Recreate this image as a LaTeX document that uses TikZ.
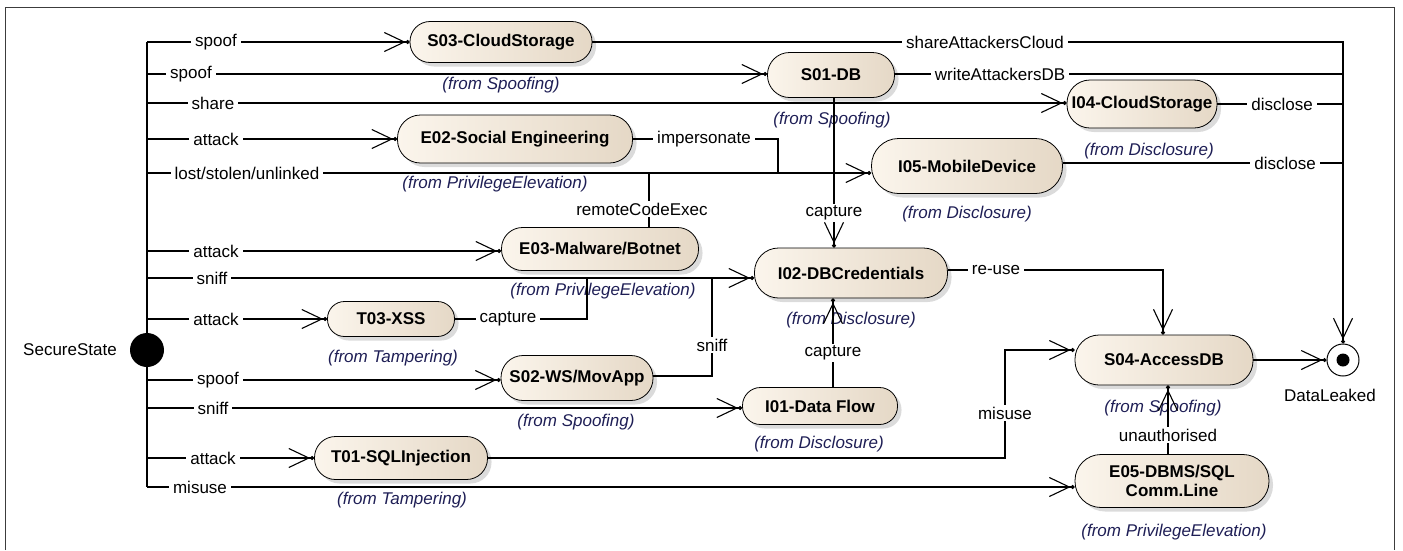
\documentclass[tikz,border=0pt]{standalone}
\usepackage{fontspec}
\setmainfont{Liberation Sans}
\usetikzlibrary{arrows.meta,shadows}
\definecolor{bgL}{RGB}{251,245,236}
\definecolor{bgR}{RGB}{229,216,198}
\definecolor{fromc}{RGB}{30,30,85}
\definecolor{framec}{RGB}{60,60,60}
\begin{document}
\begin{tikzpicture}[x=1pt,y=-1pt,
  st/.style={draw=black, line width=0.8pt, rectangle, inner sep=0pt,
    left color=bgL, right color=bgR,
    drop shadow={shadow xshift=4pt, shadow yshift=-4pt, fill=black!28},
    font=\bfseries\fontsize{17}{19}\selectfont, align=center},
  lbl/.style={fill=white, inner xsep=4pt, inner ysep=2pt, font=\fontsize{17}{19}\selectfont},
  frm/.style={inner sep=0pt, font=\itshape\fontsize{17}{19}\selectfont, text=fromc},
  plain/.style={inner sep=0pt, font=\fontsize{17}{19}\selectfont},
  con/.style={line width=1.1pt},
  arr/.style={con, -{Straight Barb[length=20pt,width=19pt] Circle[length=4pt]}},
]
\useasboundingbox (0,0) rectangle (1403,550);
\draw[framec, line width=1pt] (5,550) -- (5,7) -- (1394,7) -- (1394,550);

% states
\node[st, minimum width=182pt, minimum height=41pt, rounded corners=20pt] (S03) at (501,42) {S03-CloudStorage};
\node[st, minimum width=127pt, minimum height=45pt, rounded corners=22pt] (S01) at (831,75) {S01-DB};
\node[st, minimum width=150pt, minimum height=48pt, rounded corners=23pt] (I04) at (1142,104) {I04-CloudStorage};
\node[st, minimum width=235pt, minimum height=48pt, rounded corners=23pt] (E02) at (515,139) {E02-Social Engineering};
\node[st, minimum width=191pt, minimum height=55pt, rounded corners=27pt] (I05) at (967,166) {I05-MobileDevice};
\node[st, minimum width=197pt, minimum height=43pt, rounded corners=21pt] (E03) at (600,249) {E03-Malware/Botnet};
\node[st, minimum width=193pt, minimum height=50pt, rounded corners=24pt] (I02) at (851,273) {I02-DBCredentials};
\node[st, minimum width=127pt, minimum height=35pt, rounded corners=17pt] (T03) at (391,319) {T03-XSS};
\node[st, minimum width=152pt, minimum height=45pt, rounded corners=22pt] (S02) at (577,378) {S02-WS/MovApp};
\node[st, minimum width=155pt, minimum height=37pt, rounded corners=18pt] (I01) at (820,406) {I01-Data Flow};
\node[st, minimum width=178pt, minimum height=50pt, rounded corners=24pt] (S04) at (1164,360) {S04-AccessDB};
\node[st, minimum width=173pt, minimum height=43pt, rounded corners=21pt] (T01) at (401,458) {T01-SQLInjection};
\node[st, minimum width=194pt, minimum height=53pt, rounded corners=26pt] (E05) at (1172,481) {E05-DBMS/SQL\\Comm.Line};

% pseudo states
\node[circle, fill=black, minimum size=34pt, inner sep=0pt] (SS) at (147,350) {};
\node[plain] (SSl) at (70,350) {SecureState};
\node[circle, draw=black, fill=white, line width=1pt, minimum size=32pt, inner sep=0pt] (DL) at (1343,360) {};
\node[circle, fill=black, minimum size=13pt, inner sep=0pt] (DLd) at (DL.center) {};
\node[plain] (DLl) at (1330,395) {DataLeaked};

% from labels
\node[frm] (fS03) at (501,85) {(from Spoofing)};
\node[frm] (fS01) at (832,120) {(from Spoofing)};
\node[frm] (fI04) at (1149,151) {(from Disclosure)};
\node[frm] (fE02) at (495,184) {(from PrivilegeElevation)};
\node[frm] (fI05) at (967,214) {(from Disclosure)};
\node[frm] (fE03) at (603,291) {(from PrivilegeElevation)};
\node[frm] (fI02) at (851,320) {(from Disclosure)};
\node[frm] (fT03) at (393,358) {(from Tampering)};
\node[frm] (fS02) at (576,422) {(from Spoofing)};
\node[frm] (fI01) at (819,444) {(from Disclosure)};
\node[frm] (fS04) at (1163,408) {(from Spoofing)};
\node[frm] (fT01) at (402,500) {(from Tampering)};
\node[frm] (fE05) at (1174,532) {(from PrivilegeElevation)};

% trunk coordinates
\coordinate (tr1) at (147,42);
\coordinate (tr2) at (147,74);
\coordinate (tr3) at (147,103);
\coordinate (tr4) at (147,139);
\coordinate (tr5) at (147,173);
\coordinate (tr6) at (147,251);
\coordinate (tr7) at (147,278);
\coordinate (tr8) at (147,319);
\coordinate (tr9) at (147,380);
\coordinate (tr10) at (147,408);
\coordinate (tr11) at (147,458);
\coordinate (tr12) at (147,487);
% other bends
\coordinate (c1) at (1343,42);
\coordinate (c2) at (1343,74);
\coordinate (c3) at (1343,104);
\coordinate (c4) at (1343,163);
\coordinate (j1) at (778,139);
\coordinate (j2) at (778,173);
\coordinate (j3) at (649,173);
\coordinate (k1) at (834,150);
\coordinate (k2) at (833,350);
\coordinate (m1) at (587,319);
\coordinate (m2) at (587,278);
\coordinate (n1) at (712,376);
\coordinate (n2) at (712,278);
\coordinate (r1) at (1163,270);
\coordinate (p1) at (1005,458);
\coordinate (p2) at (1005,350);
\coordinate (q1) at (1168,430);

% trunk
\draw[con] (tr1) -- (SS.center) -- (tr12);
\draw[arr] (tr1) -- (tr1 -| S03.west);
\draw[arr] (tr2) -- (tr2 -| S01.west);
\draw[arr] (tr3) -- (tr3 -| I04.west);
\draw[arr] (tr4) -- (tr4 -| E02.west);
\draw[arr] (tr5) -- (tr5 -| I05.west);
\draw[arr] (tr6) -- (tr6 -| E03.west);
\draw[arr] (tr7) -- (tr7 -| I02.west);
\draw[arr] (tr8) -- (tr8 -| T03.west);
\draw[arr] (tr9) -- (tr9 -| S02.west);
\draw[arr] (tr10) -- (tr10 -| I01.west);
\draw[arr] (tr11) -- (tr11 -| T01.west);
\draw[arr] (tr12) -- (tr12 -| E05.west);

% to DataLeaked
\draw[arr] (S03.east) -- (c1) -- (DL.north);
\draw[con] (c2 -| S01.east) -- (c2);
\draw[con] (c3 -| I04.east) -- (c3);
\draw[con] (c4 -| I05.east) -- (c4);
\draw[arr] (S04.east) -- (DL.west);

% internal transitions
\draw[con] (E02.east) -- (j1) -- (j2);
\draw[con] (j3 |- E03.north) -- (j3);
\draw[arr] (k1 |- S01.south) -- (k1 |- I02.north);
\draw[arr] (k2 |- I01.north) -- (k2 |- I02.south);
\draw[con] (T03.east) -- (m1) -- (m2);
\draw[con] (n1 -| S02.east) -- (n1) -- (n2);
\draw[arr] (r1 -| I02.east) -- (r1) -- (r1 |- S04.north);
\draw[arr] (T01.east) -- (p1) -- (p2) -- (p2 -| S04.west);
\draw[arr] (q1 |- E05.north) -- (q1 |- S04.south);

% transition labels
\node[lbl] (l1) at (216,42) {spoof};
\node[lbl] (l2) at (191,74) {spoof};
\node[lbl] (l3) at (213,103) {share};
\node[lbl] (l4) at (216,139) {attack};
\node[lbl] (l5) at (247,173) {lost/stolen/unlinked};
\node[lbl] (l6) at (216,251) {attack};
\node[lbl] (l7) at (212,278) {sniff};
\node[lbl] (l8) at (216,319) {attack};
\node[lbl] (l9) at (218,380) {spoof};
\node[lbl] (l10) at (213,408) {sniff};
\node[lbl] (l11) at (213,458) {attack};
\node[lbl] (l12) at (200,487) {misuse};
\node[lbl] (l13) at (985,42) {shareAttackersCloud};
\node[lbl] (l14) at (1000,74) {writeAttackersDB};
\node[lbl] (l15) at (1282,104) {disclose};
\node[lbl] (l16) at (1285,163) {disclose};
\node[lbl] (l17) at (704,139) {impersonate};
\node[lbl] (l18) at (642,209) {remoteCodeExec};
\node[lbl] (l19) at (834,213) {capture};
\node[lbl] (l20) at (508,319) {capture};
\node[lbl] (l21) at (712,345) {sniff};
\node[lbl] (l22) at (833,353) {capture};
\node[lbl] (l23) at (996,270) {re-use};
\node[lbl] (l24) at (1005,413) {misuse};
\node[lbl] (l25) at (1168,435) {unauthorised};
\end{tikzpicture}
\end{document}
